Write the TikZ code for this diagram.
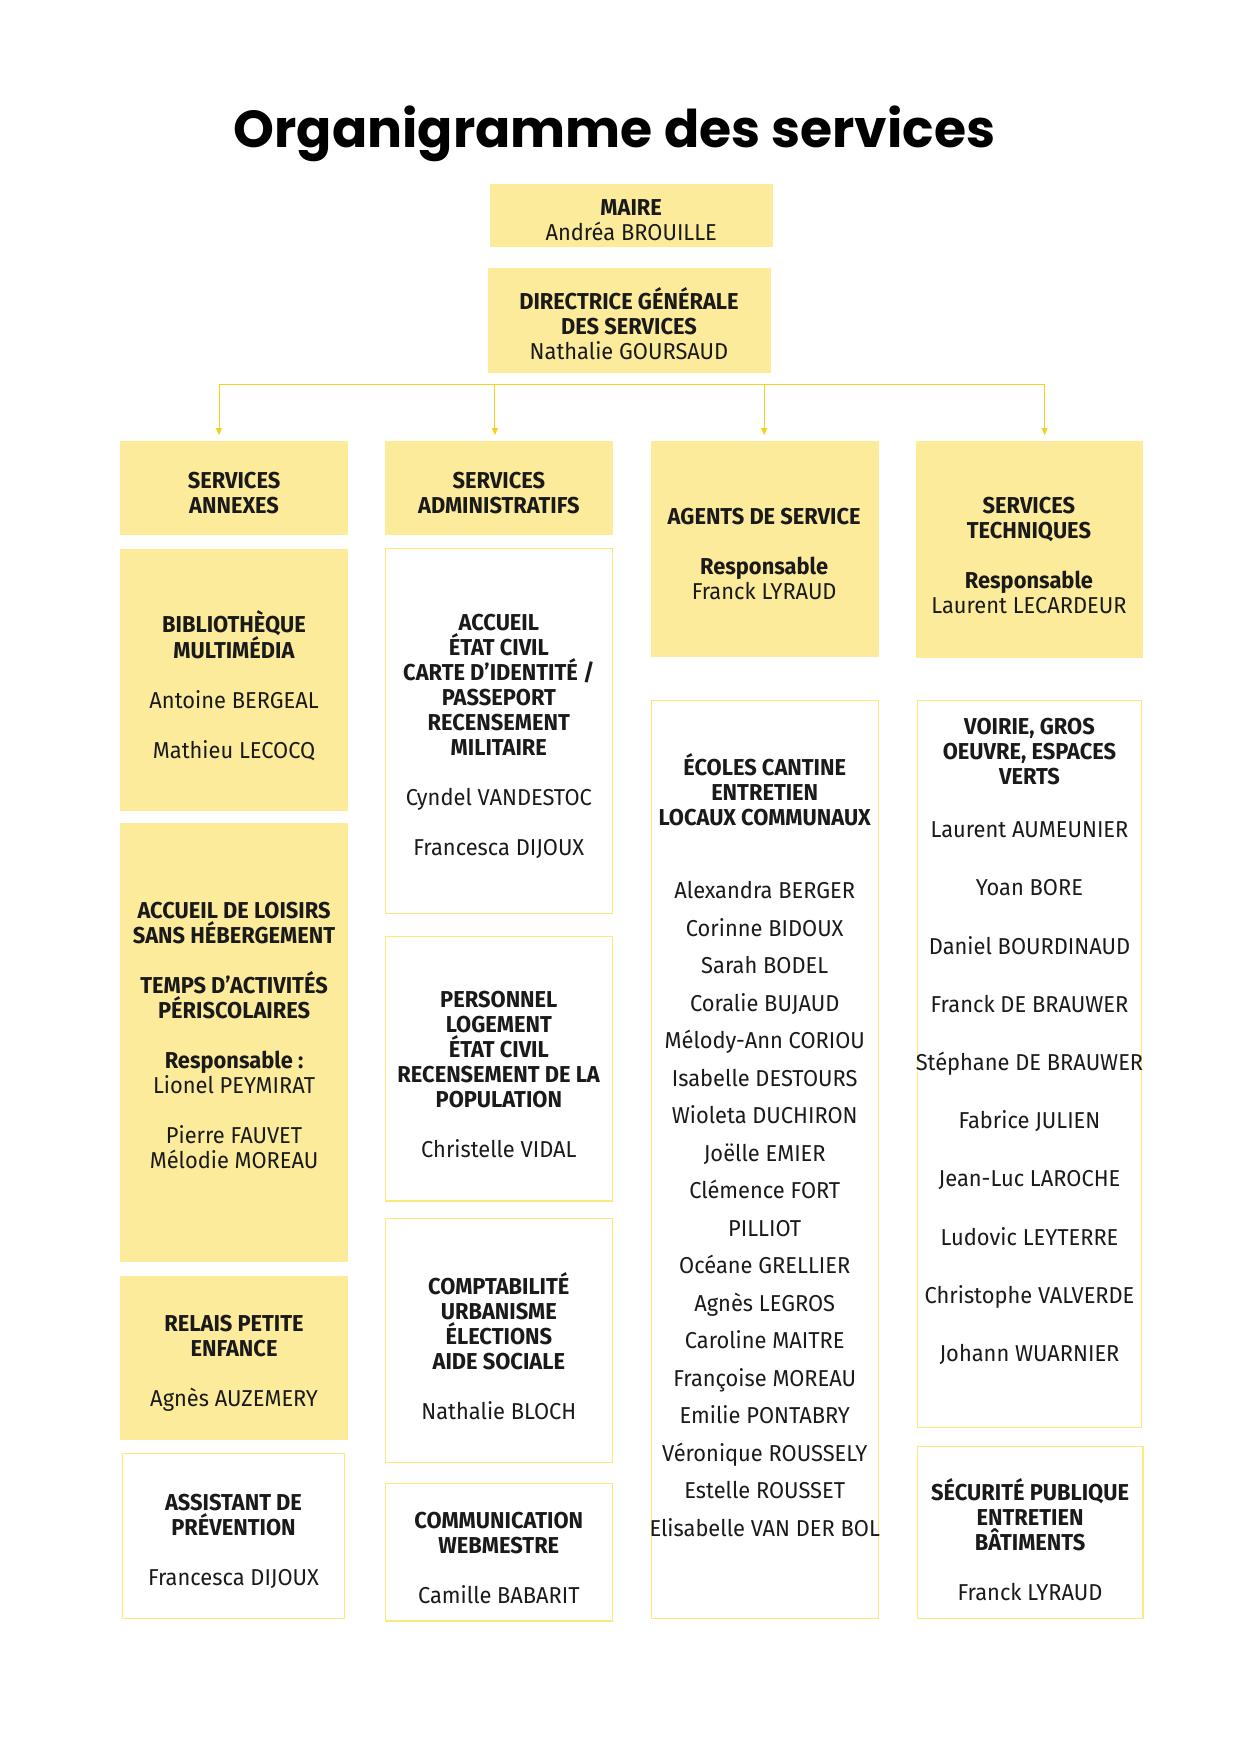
\documentclass[tikz,border=0pt]{standalone}
\usepackage{fontspec}
\setmainfont{Fira Sans}[FakeStretch=0.95]
\newfontfamily\titlefont{Poppins}
\usetikzlibrary{fit,arrows.meta}
\definecolor{yfill}{HTML}{FDEB9C}
\definecolor{yline}{HTML}{FCE97A}
\definecolor{yarrow}{HTML}{F2D21A}
\definecolor{ink}{HTML}{1A1A1A}
\tikzset{
  box/.style={inner sep=0pt, draw=yline, line width=1.2pt, fill=white},
  ybox/.style={inner sep=0pt, draw=yfill, fill=yfill},
  txt/.style={align=center, text=ink, inner sep=0pt, font=\fontsize{23}{25}\selectfont},
  list/.style={align=center, text=ink, inner sep=0pt},
  conn/.style={draw=yarrow, line width=0.9pt},
  arr/.style={conn, -{Triangle[length=7pt,width=6pt]}, shorten >=6pt}
}
\newcommand{\B}[1]{\textbf{#1}}
\begin{document}
\begin{tikzpicture}[x=1.117pt,y=-1.117pt]
\useasboundingbox (0,0) rectangle (1110,1570);
\node[anchor=base, inner sep=0pt, font=\titlefont\bfseries\fontsize{52}{60}\selectfont] (title) at (550,132) {Organigramme des services};

% top
\node[ybox, fit={(439,165) (691,220)}] (maire) {};
\node[txt] (maireT) at (565,197) {\B{MAIRE}\\Andréa BROUILLE};
\node[ybox, fit={(437,240) (689,333)}] (dg) {};
\node[txt] (dgT) at (563,290) {\B{DIRECTRICE GÉNÉRALE}\\\B{DES SERVICES}\\Nathalie GOURSAUD};

% headers
\node[ybox, fit={(108,395) (311,478)}] (annexes) {};
\node[txt] at (209.5,441) {\B{SERVICES}\\\B{ANNEXES}};
\node[ybox, fit={(345,395) (548,478)}] (admin) {};
\node[txt] at (446.5,441) {\B{SERVICES}\\\B{ADMINISTRATIFS}};
\node[ybox, fit={(583,395) (786,587)}] (agents) {};
\node[txt] at (684,496) {\B{AGENTS DE SERVICE}\\[25pt]\B{Responsable}\\Franck LYRAUD};
\node[ybox, fit={(820,395) (1022,588)}] (tech) {};
\node[txt] at (921,497) {\B{SERVICES}\\\B{TECHNIQUES}\\[25pt]\B{Responsable}\\Laurent LECARDEUR};

% connectors
\coordinate (hl) at (196,344);
\coordinate (hr) at (935,344);
\draw[conn] (hl) -- (hr);
\draw[arr] (hl) -- (annexes.north -| hl);
\draw[arr] (443,344) coordinate (h2) -- (admin.north -| h2);
\draw[arr] (684,344) coordinate (h3) -- (agents.north -| h3);
\draw[arr] (hr) -- (tech.north -| hr);

% column 1
\node[ybox, fit={(108,492) (311,725)}] (biblio) {};
\node[txt] at (209.5,614) {\B{BIBLIOTHÈQUE}\\\B{MULTIMÉDIA}\\[25pt]Antoine BERGEAL\\[25pt]Mathieu LECOCQ};
\node[ybox, fit={(108,737) (311,1129)}] (alsh) {};
\node[txt] at (209.5,926.5) {\B{ACCUEIL DE LOISIRS}\\\B{SANS HÉBERGEMENT}\\[25pt]\B{TEMPS D’ACTIVITÉS}\\\B{PÉRISCOLAIRES}\\[25pt]\B{Responsable :}\\Lionel PEYMIRAT\\[25pt]Pierre FAUVET\\Mélodie MOREAU};
\node[ybox, fit={(108,1142) (311,1288)}] (relais) {};
\node[txt] at (209.5,1220.5) {\B{RELAIS PETITE}\\\B{ENFANCE}\\[25pt]Agnès AUZEMERY};
\node[box, fit={(110,1301) (308,1449)}] (assist) {};
\node[txt] at (209,1379.5) {\B{ASSISTANT DE}\\\B{PRÉVENTION}\\[25pt]Francesca DIJOUX};

% column 2
\node[box, fit={(345,491) (548,818)}] (accueil) {};
\node[txt] at (446.5,659) {\B{ACCUEIL}\\\B{ÉTAT CIVIL}\\\B{CARTE D'IDENTITÉ /}\\\B{PASSEPORT}\\\B{RECENSEMENT}\\\B{MILITAIRE}\\[25pt]Cyndel VANDESTOC\\[25pt]Francesca DIJOUX};
\node[box, fit={(345,838) (548,1075)}] (perso) {};
\node[txt] at (446.5,961.5) {\B{PERSONNEL}\\\B{LOGEMENT}\\\B{ÉTAT CIVIL}\\\B{RECENSEMENT DE LA}\\\B{POPULATION}\\[25pt]Christelle VIDAL};
\node[box, fit={(345,1091) (548,1309)}] (compta) {};
\node[txt] at (446.5,1205) {\B{COMPTABILITÉ}\\\B{URBANISME}\\\B{ÉLECTIONS}\\\B{AIDE SOCIALE}\\[25pt]Nathalie BLOCH};
\node[box, fit={(345,1328) (548,1451)}] (comm) {};
\node[txt] at (446.5,1394.5) {\B{COMMUNICATION}\\\B{WEBMESTRE}\\[25pt]Camille BABARIT};

% column 3
\node[box, fit={(583,627) (786,1449)}] (ecoles) {};
\node[txt] at (684.5,707) {\B{ÉCOLES CANTINE}\\\B{ENTRETIEN}\\\B{LOCAUX COMMUNAUX}};
\node[list, font=\fontsize{23}{37.5}\selectfont] at (684.5,1082) {Alexandra BERGER\\Corinne BIDOUX\\Sarah BODEL\\Coralie BUJAUD\\Mélody-Ann CORIOU\\Isabelle DESTOURS\\Wioleta DUCHIRON\\Joëlle EMIER\\Clémence FORT\\PILLIOT\\Océane GRELLIER\\Agnès LEGROS\\Caroline MAITRE\\Françoise MOREAU\\Emilie PONTABRY\\Véronique ROUSSELY\\Estelle ROUSSET\\Elisabelle VAN DER BOL};

% column 4
\node[box, fit={(821,627) (1022,1278)}] (voirie) {};
\node[txt] at (921.5,672.5) {\B{VOIRIE, GROS}\\\B{OEUVRE, ESPACES}\\\B{VERTS}};
\node[list, font=\fontsize{23}{58.2}\selectfont] at (921.5,978.5) {Laurent AUMEUNIER\\Yoan BORE\\Daniel BOURDINAUD\\Franck DE BRAUWER\\Stéphane DE BRAUWER\\Fabrice JULIEN\\Jean-Luc LAROCHE\\Ludovic LEYTERRE\\Christophe VALVERDE\\Johann WUARNIER};
\node[box, fit={(821,1295) (1023,1449)}] (secu) {};
\node[txt] at (922,1378) {\B{SÉCURITÉ PUBLIQUE}\\\B{ENTRETIEN}\\\B{BÂTIMENTS}\\[25pt]Franck LYRAUD};
\end{tikzpicture}
\end{document}
